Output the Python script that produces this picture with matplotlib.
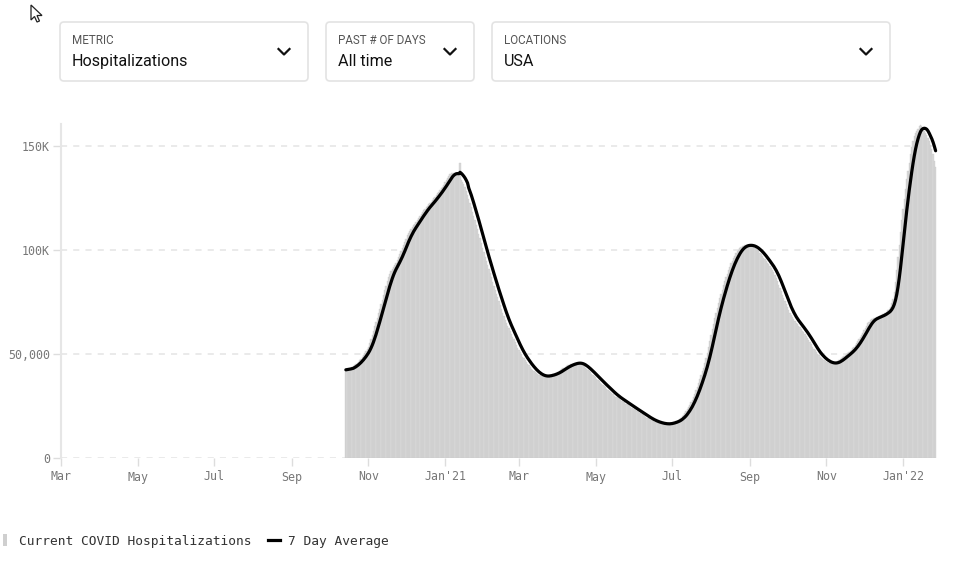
import numpy as np
import pandas as pd
import matplotlib
matplotlib.use("Agg")
import matplotlib.pyplot as plt
from matplotlib.patches import FancyBboxPatch, Rectangle, Polygon
from matplotlib.lines import Line2D
from matplotlib.transforms import IdentityTransform
from datetime import datetime

# daily current COVID hospitalizations (thousands), one value per day from 2020-10-14
oct20 = [42.4, 42.6, 42.8, 43, 43.3, 43.7, 44.2, 44.7, 45.3, 45.8, 46.3, 47, 47.8, 48.6, 49.5, 50.4, 51.4, 52.4]
nov20 = [53.5, 55.3, 57.2, 59.2, 61.2, 63.3, 65.4, 67.5, 69.5, 71.8, 74, 76.2, 78.4, 80.6, 82.7, 84.9, 87, 88.4,
         89.7, 90.9, 92, 93, 94, 95, 96.5, 98, 99.5, 101, 102.5, 104]
dec20 = [105.5, 107, 108, 109, 110, 110.9, 111.8, 112.7, 113.6, 114.5, 115.4, 116.2, 117.3, 118.4, 119.1, 119.8,
         120.5, 121.2, 121.9, 122.6, 123.3, 124, 124.8, 125.6, 126.4, 127.2, 128, 128.8, 129.7, 130.5, 131.5]
jan21 = [132.5, 133.5, 134.5, 135.5, 136.4, 137, 137.2, 137.1, 136.9, 136.6, 136.2, 135.6, 142, 133.8, 132.7, 131.6,
         130.5, 128.5, 126.5, 124.5, 122.5, 120.5, 118.5, 116.4, 114.4, 112.2, 110, 107.8, 105.6, 103.4, 101.2]
feb21 = [99, 96.8, 94.8, 92.8, 90.8, 88.8, 86.8, 84.8, 82.8, 80.8, 79, 77.2, 75.4, 73.5, 71.7, 69.9, 68.1, 66.3,
         65, 63.7, 62.4, 61.1, 59.8, 58.4, 57.1, 55.7, 54.3, 53.1]
mar21 = [51.9, 50.8, 49.8, 48.8, 47.9, 47, 46.2, 45.4, 44.6, 43.8, 43, 42.4, 41.8, 41.3, 40.8, 40.3, 40, 39.7,
         39.4, 39.3, 39.3, 39.3, 39.4, 39.5, 39.7, 39.9, 40.1, 40.3, 40.5, 40.7, 41.1]
apr21 = [41.5, 41.9, 42.3, 42.7, 43.1, 43.5, 43.9, 44.2, 44.5, 44.8, 45, 45.2, 45.4, 45.6, 45.7, 45.8, 45.8, 45.6,
         45.3, 44.9, 44.5, 44, 43.5, 43, 42.4, 41.8, 41.2, 40.6, 40, 39.4]
may21 = [38.8, 38.1, 37.5, 36.9, 36.3, 35.7, 35.1, 34.5, 34, 33.4, 32.8, 32.2, 31.7, 31.1, 30.6, 30, 29.5, 29.1,
         28.7, 28.3, 27.9, 27.5, 27.1, 26.7, 26.2, 25.8, 25.4, 25, 24.6, 24.2, 23.8]
jun21 = [23.4, 23, 22.6, 22.2, 21.8, 21.4, 21, 20.6, 20.2, 19.8, 19.4, 19, 18.7, 18.4, 18.1, 17.8, 17.5, 17.3,
         17.1, 16.9, 16.8, 16.7, 16.5, 16.4, 16.3, 16.3, 16.4, 16.5, 16.6, 16.8]
jul21 = [17, 17.2, 17.4, 17.7, 18, 18.3, 18.8, 19.4, 20.1, 20.8, 21.5, 22.4, 23.4, 24.5, 25.6, 26.8, 28, 29.5,
         31, 32.6, 34.3, 36, 37.8, 39.7, 41.6, 43.5, 45.5, 48, 50.6, 53.3, 56.1]
aug21 = [59, 61.8, 64.6, 67.3, 69.9, 72.2, 74.4, 76.7, 78.9, 81, 83, 85, 86.9, 88.7, 90.4, 92, 93.6, 94.9,
         96.1, 97.3, 98.4, 99.3, 100.2, 101, 101.6, 101.9, 102.1, 102.2, 102.3, 102.4, 102.4]
sep21 = [102.3, 102.1, 101.8, 101.4, 101, 100.5, 100, 99.4, 98.7, 98, 97.2, 96.4, 95.6, 94.8, 94, 93.1, 92.2, 91.3,
         90.4, 89.5, 88, 86.5, 85, 83.4, 81.8, 80.2, 78.6, 77, 75.4, 73.9]
oct21 = [72.4, 71, 69.8, 68.7, 67.7, 66.8, 65.9, 65.1, 64.4, 63.7, 63, 62.2, 61.3, 60.4, 59.5, 58.6, 57.7, 56.8,
         55.8, 54.7, 53.5, 52.6, 51.7, 50.9, 50.1, 49.4, 48.7, 48.1, 47.6, 47.1, 46.7]
nov21 = [46.3, 46, 45.8, 45.6, 45.5, 45.5, 45.6, 45.8, 46.1, 46.5, 46.9, 47.4, 47.9, 48.4, 48.9, 49.4, 49.9, 50.4,
         50.9, 51.4, 52, 52.7, 53.5, 54.4, 55.3, 56.2, 57.2, 58.2, 59.2, 60.3]
dec21 = [61.4, 62.5, 63.7, 64.8, 65.6, 66.2, 66.7, 67, 67.3, 67.5, 67.7, 67.9, 68.2, 68.5, 68.8, 69.1, 69.5, 69.9,
         70.4, 71, 71.6, 72.5, 74.5, 76.5, 80, 84.5, 90.4, 96.5, 102.5, 108.5, 114.4]
jan22 = [119.5, 124.5, 129.5, 134, 138, 142, 146, 149.5, 152.5, 154.8, 156.3, 157.3, 158, 159.5, 160.2, 159.4,
         158.1, 157.4, 156.4, 155.2, 153.8, 152.2, 150.5, 148.6, 146, 143, 140]

daily_k = (oct20 + nov20 + dec20 + jan21 + feb21 + mar21 + apr21 + may21 + jun21 + jul21 + aug21 + sep21
           + oct21 + nov21 + dec21 + jan22)
start_date = "2020-10-14"

y_ticks = [0, 50000, 100000, 150000]
y_labels = ["0", "50,000", "100K", "150K"]
x_tick_dates = ["2020-03-01", "2020-05-01", "2020-07-01", "2020-09-01", "2020-11-01", "2021-01-01",
                "2021-03-01", "2021-05-01", "2021-07-01", "2021-09-01", "2021-11-01", "2022-01-01"]
x_labels = ["Mar", "May", "Jul", "Sep", "Nov", "Jan'21", "Mar", "May", "Jul", "Sep", "Nov", "Jan'22"]

dates = pd.date_range(start_date, periods=len(daily_k), freq="D")
daily = pd.Series(np.array(daily_k) * 1000, index=dates)
avg7 = daily.rolling(7, min_periods=1).mean()

W, H = 970, 569
fig = plt.figure(figsize=(W / 100, H / 100), dpi=100)
MONO = "DejaVu Sans Mono"
UI = ["Roboto", "DejaVu Sans"]

ax = fig.add_axes([61 / W, 1 - 458 / H, (940 - 61) / W, (458 - 124) / H])
ax.bar(daily.index, daily.values, width=1.0, color="#d8d8d8", edgecolor="#c8c8c8", linewidth=0.25,
       align="center", zorder=2)
ax.plot(avg7.index, avg7.values, color="black", lw=2.3, solid_capstyle="round", zorder=3)

ax.set_xlim(datetime(2020, 3, 1), datetime(2022, 1, 30, 12))
ax.set_ylim(0, 160600)
ax.set_yticks(y_ticks)
ax.set_yticklabels(y_labels, fontfamily=MONO, fontsize=8.4, color="#777777")
ax.set_xticks(pd.to_datetime(x_tick_dates))
ax.set_xticklabels(x_labels, fontfamily=MONO, fontsize=8.4, color="#777777")
ax.tick_params(axis="y", length=6, width=1, color="#dddddd", pad=2)
ax.tick_params(axis="x", length=6, width=1, color="#dddddd", pad=3)
ax.yaxis.grid(True, color="#e4e4e4", linestyle=(0, (4, 4)), lw=1.1, zorder=1)
for s in ["top", "right", "bottom"]:
    ax.spines[s].set_visible(False)
ax.spines["left"].set_color("#e6e6e6")
ax.spines["left"].set_linewidth(1.5)
ax.set_axisbelow(True)

# dropdown controls above the chart (pixel positions, origin at top-left)
ident = IdentityTransform()
boxes = [(60, 308, "METRIC", "Hospitalizations", 284),
         (326, 474, "PAST # OF DAYS", "All time", 450),
         (492, 890, "LOCATIONS", "USA", 866)]
for x0, x1, lab, val, cx in boxes:
    fig.patches.append(FancyBboxPatch((x0, H - 81), x1 - x0, 59,
                                      boxstyle="round,pad=0,rounding_size=4",
                                      transform=ident, facecolor="white",
                                      edgecolor="#e3e3e3", lw=1.2))
    fig.text((x0 + 12) / W, 1 - 41 / H, lab, family=UI, fontsize=8.4, color="#555555", va="center")
    fig.text((x0 + 12) / W, 1 - 61.5 / H, val, family=UI, fontsize=11.6, color="#111111", va="center")
    fig.lines.append(Line2D([cx - 5.5, cx, cx + 5.5], [H - 49, H - 54.5, H - 49],
                            transform=ident, color="#111111", lw=1.6))

# mouse pointer
cur = np.array([(0, 0), (0, 15), (3.5, 11.5), (6, 17), (8.5, 16), (6, 10.5), (11, 10.5)])
fig.patches.append(Polygon(np.column_stack([31 + cur[:, 0], H - (5 + cur[:, 1])]), closed=True,
                           transform=ident, facecolor="white", edgecolor="#222222", lw=0.9))

# legend
fig.patches.append(Rectangle((3, H - 546), 4, 12, transform=ident, facecolor="#cfcfcf", lw=0))
fig.text(19 / W, 1 - 541 / H, "Current COVID Hospitalizations", family=MONO, fontsize=9.3,
         color="#333333", va="center")
fig.lines.append(Line2D([268, 280], [H - 540, H - 540], transform=ident, color="black", lw=2.3))
fig.text(288 / W, 1 - 541 / H, "7 Day Average", family=MONO, fontsize=9.3, color="#333333", va="center")

fig.savefig("out.png", dpi=100)
